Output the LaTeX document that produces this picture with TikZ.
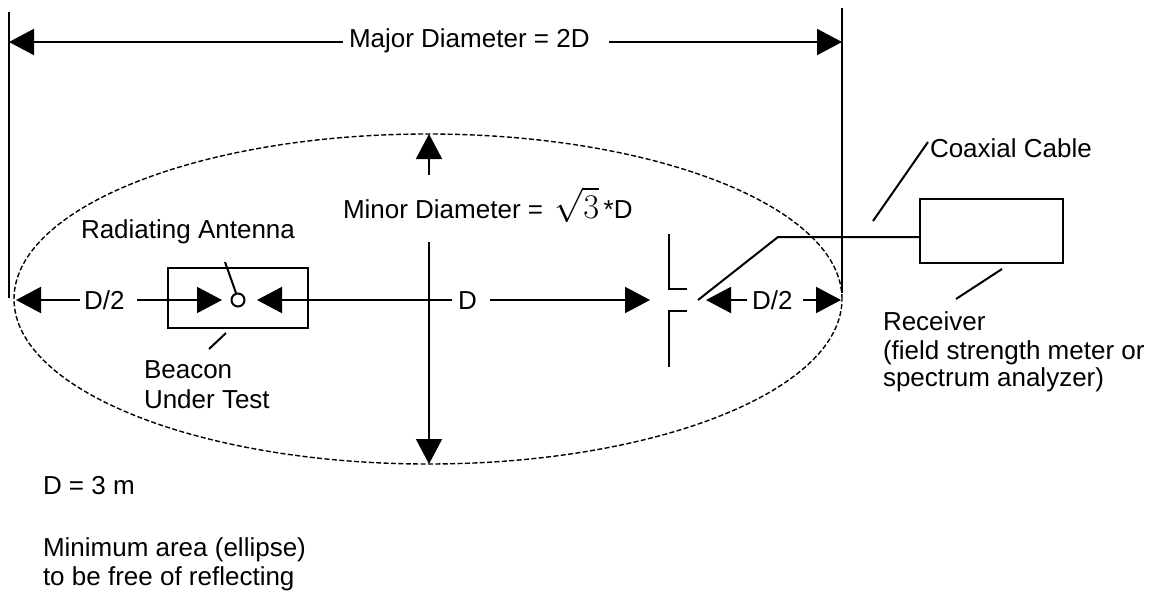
\documentclass[tikz,border=0pt]{standalone}
\usepackage{fontspec}
\setmainfont{Liberation Sans}
\usetikzlibrary{arrows.meta}
\begin{document}
\begin{tikzpicture}[x=0.5pt,y=-0.5pt,line width=1pt,
  every node/.style={inner sep=0pt,font=\fontsize{13}{14}\selectfont},
  lbl/.style={anchor=base west},
  arr/.style={-{Triangle[length=12.5pt,width=13pt]}},
  area/.style={line width=0.7pt,dash pattern=on 2.5pt off 1.2pt},
  box/.style={draw,line width=1pt}]
\useasboundingbox (0,0) rectangle (1162,594);
% extent lines
\coordinate (LT) at (9,12);   \coordinate (LB) at (9,298);
\coordinate (RT) at (842,8);  \coordinate (RB) at (842,293);
\draw (LT) -- (LB);
\draw (RT) -- (RB);
% major diameter
\coordinate (ML) at (9,42); \coordinate (MR) at (842,42);
\node[lbl] (major) at (348,47) {Major Diameter = 2D};
\coordinate (Ma) at (343,42); \coordinate (Mb) at (609,42);
\draw[arr] (Ma) -- (ML);
\draw[arr] (Mb) -- (MR);
% ellipse
\draw[area] (428,299) ellipse [x radius=207pt, y radius=82.5pt];
% minor diameter
\coordinate (MT) at (429,134); \coordinate (MBt) at (429,464);
\coordinate (m1) at (429,175); \coordinate (m2) at (429,242);
\node[lbl] (minor) at (342,218) {Minor Diameter = \,{\fontsize{17}{17}\selectfont$\sqrt{3}$}\,*D};
\draw[arr] (m1) -- (MT);
\draw[arr] (m2) -- (MBt);
% beacon
\node[box,minimum width=70pt,minimum height=30pt] (beacon) at (238,298) {};
\node[draw,circle,minimum size=6.5pt,line width=1pt] (ant) at (238,300) {};
% dimension line
\coordinate (E1) at (16,300); \coordinate (a1) at (80,300);
\node[lbl] (dh1) at (83,309) {D/2};
\coordinate (a2) at (137,300); \coordinate (t2) at (222,300);
\coordinate (t3) at (257,300); \coordinate (a3) at (452,300);
\node[lbl] (dd) at (457,309) {D};
\coordinate (a4) at (490,300); \coordinate (t4) at (650,300);
\coordinate (t5) at (706,300); \coordinate (a5) at (747,300);
\node[lbl] (dh2) at (751,309) {D/2};
\coordinate (a6) at (803,300); \coordinate (E2) at (841,300);
\draw[arr] (a1) -- (E1);
\draw[arr] (a2) -- (t2);
\draw[arr] (a3) -- (t3);
\draw[arr] (a4) -- (t4);
\draw[arr] (a5) -- (t5);
\draw[arr] (a6) -- (E2);
% receiving antenna
\coordinate (p1) at (669,234); \coordinate (p2) at (669,289); \coordinate (p3) at (687,289);
\coordinate (q1) at (687,311); \coordinate (q2) at (669,311); \coordinate (q3) at (669,367);
\draw (p1) -- (p2) -- (p3);
\draw (q1) -- (q2) -- (q3);
% receiver
\node[box,minimum width=71.5pt,minimum height=32pt] (recv) at (991.5,231) {};
\coordinate (c1) at (698,300); \coordinate (c2) at (778,237);
\draw (c1) -- (c2) -- (c2 -| recv.west);
% labels and leaders
\node[lbl] (radt) at (80,238) {Radiating Antenna};
\coordinate (r1) at (225,262); \coordinate (r2) at (236,293);
\draw (r1) -- (r2);
\node[lbl] (bea1) at (143,378) {Beacon};
\node[lbl] (bea2) at (143,408) {Under Test};
\coordinate (b1) at (226,333); \coordinate (b2) at (209,349);
\draw (b1) -- (b2);
\node[lbl] (coax) at (929,157) {Coaxial Cable};
\coordinate (k1) at (873,221); \coordinate (k2) at (928,142);
\draw (k1) -- (k2);
\node[lbl] (rc1) at (882,330) {Receiver};
\node[lbl] (rc2) at (882,359) {(field strength meter or};
\node[lbl] (rc3) at (882,386) {spectrum analyzer)};
\coordinate (v1) at (1002,269); \coordinate (v2) at (956,299);
\draw (v1) -- (v2);
\node[lbl] (dval) at (42,494) {D = 3 m};
\node[lbl] (min1) at (42,556) {Minimum area (ellipse)};
\node[lbl] (min2) at (42,585) {to be free of reflecting};
\end{tikzpicture}
\end{document}
